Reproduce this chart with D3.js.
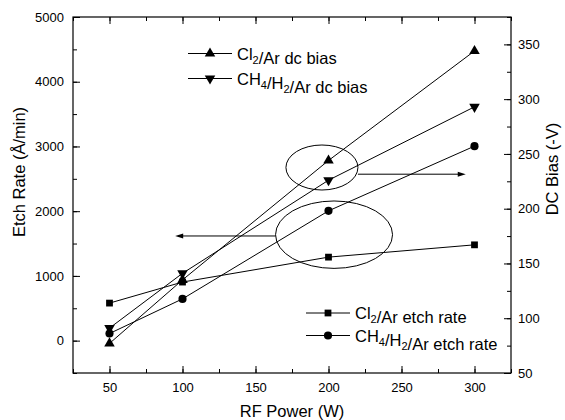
<!DOCTYPE html>
<html>
<head>
<meta charset="utf-8">
<script src="https://cdn.jsdelivr.net/npm/d3@7"></script>
<style>
  body { margin: 0; background: #fff; }
  svg { display: block; font-family: "Liberation Sans", Arial, sans-serif; }
</style>
</head>
<body>
<div id="chart"></div>
<script>
// RF power settings (W)
var power = [50, 100, 200, 300];
// dc bias, right axis (-V)
var cl2Bias = [77, 135, 244, 344];
var ch4Bias = [91, 141, 226, 293];
// etch rate, left axis (A/min)
var cl2Etch = [580, 905, 1290, 1480];
var ch4Etch = [110, 645, 2005, 3005];

var xTicks = [50, 100, 150, 200, 250, 300];
var leftTicks = [0, 1000, 2000, 3000, 4000, 5000];
var rightTicks = [50, 100, 150, 200, 250, 300, 350];

var W = 565, H = 420;
var pL = 73, pR = 511, pT = 17, pB = 373;

var svg = d3.select("#chart").append("svg").attr("width", W).attr("height", H);

var x = d3.scaleLinear().domain([25, 325]).range([pL, pR]);
var yL = d3.scaleLinear().domain([-500, 5000]).range([pB, pT]);
var yR = d3.scaleLinear().domain([50, 375]).range([pB, pT]);

function minor(lo, hi, step) {
  return d3.range(lo, hi + step / 2, step);
}

function styleAxis(g) {
  g.select(".domain").remove();
  g.selectAll("line").attr("stroke", "#000").attr("stroke-width", 1);
  g.selectAll("text").attr("font-size", 13).attr("fill", "#000")
    .attr("font-family", "'Liberation Sans', Arial, sans-serif");
}

// minor ticks
svg.append("g").attr("transform", "translate(0," + pB + ")")
  .call(d3.axisBottom(x).tickValues(minor(25, 325, 25)).tickSize(-4).tickFormat(""))
  .call(styleAxis);
svg.append("g").attr("transform", "translate(0," + pT + ")")
  .call(d3.axisTop(x).tickValues(minor(25, 325, 25)).tickSize(-4).tickFormat(""))
  .call(styleAxis);
svg.append("g").attr("transform", "translate(" + pL + ",0)")
  .call(d3.axisLeft(yL).tickValues(minor(-500, 5000, 500)).tickSize(-4).tickFormat(""))
  .call(styleAxis);
svg.append("g").attr("transform", "translate(" + pR + ",0)")
  .call(d3.axisRight(yR).tickValues(minor(50, 375, 25)).tickSize(-4).tickFormat(""))
  .call(styleAxis);

// major ticks
svg.append("g").attr("transform", "translate(0," + pB + ")")
  .call(d3.axisBottom(x).tickValues(xTicks).tickSize(-7).tickPadding(10).tickFormat(d3.format("d")))
  .call(styleAxis);
svg.append("g").attr("transform", "translate(0," + pT + ")")
  .call(d3.axisTop(x).tickValues(xTicks).tickSize(-7).tickFormat(""))
  .call(styleAxis);
svg.append("g").attr("transform", "translate(" + pL + ",0)")
  .call(d3.axisLeft(yL).tickValues(leftTicks).tickSize(-7).tickPadding(9).tickFormat(d3.format("d")))
  .call(styleAxis);
svg.append("g").attr("transform", "translate(" + pR + ",0)")
  .call(d3.axisRight(yR).tickValues(rightTicks).tickSize(-7).tickPadding(7).tickFormat(d3.format("d")))
  .call(styleAxis);

// frame
svg.append("rect").attr("x", pL).attr("y", pT)
  .attr("width", pR - pL).attr("height", pB - pT)
  .attr("fill", "none").attr("stroke", "#000").attr("stroke-width", 1.2);

// axis titles
svg.append("text").attr("x", (pL + pR) / 2).attr("y", 417)
  .attr("text-anchor", "middle").attr("font-size", 16.5).text("RF Power (W)");
svg.append("text").attr("transform", "translate(25,172) rotate(-90)")
  .attr("text-anchor", "middle").attr("font-size", 16.5).text("Etch Rate (\u00c5/min)");
svg.append("text").attr("transform", "translate(558,169) rotate(-90)")
  .attr("text-anchor", "middle").attr("font-size", 16.5).text("DC Bias (-V)");

// series
var series = [
  { vals: cl2Bias, y: yR, sym: d3.symbolTriangle, rot: 0, size: 48 },
  { vals: ch4Bias, y: yR, sym: d3.symbolTriangle, rot: 180, size: 48 },
  { vals: cl2Etch, y: yL, sym: d3.symbolSquare, rot: 0, size: 46 },
  { vals: ch4Etch, y: yL, sym: d3.symbolCircle, rot: 0, size: 52 }
];

series.forEach(function (s) {
  var pts = power.map(function (p, i) { return [x(p), s.y(s.vals[i])]; });
  svg.append("path").attr("d", d3.line()(pts))
    .attr("fill", "none").attr("stroke", "#000").attr("stroke-width", 1);
  svg.append("g").selectAll("path").data(pts).enter().append("path")
    .attr("transform", function (d) { return "translate(" + d[0] + "," + d[1] + ") rotate(" + s.rot + ")"; })
    .attr("d", d3.symbol().type(s.sym).size(s.size))
    .attr("fill", "#000");
});

// annotations: ellipses and arrows
function arrow(x1, x2, yy) {
  var dir = x2 > x1 ? 1 : -1;
  svg.append("line").attr("x1", x1).attr("x2", x2 - dir * 6).attr("y1", yy).attr("y2", yy)
    .attr("stroke", "#000").attr("stroke-width", 1);
  svg.append("path")
    .attr("d", "M" + x2 + "," + yy + "L" + (x2 - dir * 8) + "," + (yy - 2.5) + "L" + (x2 - dir * 8) + "," + (yy + 2.5) + "Z")
    .attr("fill", "#000");
}
svg.append("ellipse").attr("cx", x(195.5)).attr("cy", yR(237.6)).attr("rx", 36).attr("ry", 22.5)
  .attr("fill", "none").attr("stroke", "#000").attr("stroke-width", 1);
arrow(x(195.5) + 36, x(294), yR(231.5));
svg.append("ellipse").attr("cx", x(203.8)).attr("cy", yL(1637)).attr("rx", 58.5).attr("ry", 33.7)
  .attr("fill", "none").attr("stroke", "#000").attr("stroke-width", 1);
arrow(x(203.8) - 58.5, x(95), yL(1617));

// legends
function legendRow(x0, yy, s, parts) {
  svg.append("line").attr("x1", x0).attr("x2", x0 + 44).attr("y1", yy).attr("y2", yy)
    .attr("stroke", "#000").attr("stroke-width", 1);
  svg.append("path").attr("transform", "translate(" + (x0 + 22) + "," + yy + ") rotate(" + s.rot + ")")
    .attr("d", d3.symbol().type(s.sym).size(s.size)).attr("fill", "#000");
  var t = svg.append("text").attr("x", x0 + 49).attr("y", yy + 6).attr("font-size", 16.5);
  parts.forEach(function (p) {
    if (p.sub) {
      t.append("tspan").attr("font-size", 11).attr("dy", 4).text(p.t);
      t.append("tspan").attr("dy", -4).text("");
    } else {
      t.append("tspan").text(p.t);
    }
  });
}
legendRow(188, 53.5, series[0], [{ t: "Cl" }, { t: "2", sub: true }, { t: "/Ar dc bias" }]);
legendRow(188, 78.5, series[1], [{ t: "CH" }, { t: "4", sub: true }, { t: "/H" }, { t: "2", sub: true }, { t: "/Ar dc bias" }]);
legendRow(306, 313, series[2], [{ t: "Cl" }, { t: "2", sub: true }, { t: "/Ar etch rate" }]);
legendRow(306, 335.5, series[3], [{ t: "CH" }, { t: "4", sub: true }, { t: "/H" }, { t: "2", sub: true }, { t: "/Ar etch rate" }]);
</script>
</body>
</html>
